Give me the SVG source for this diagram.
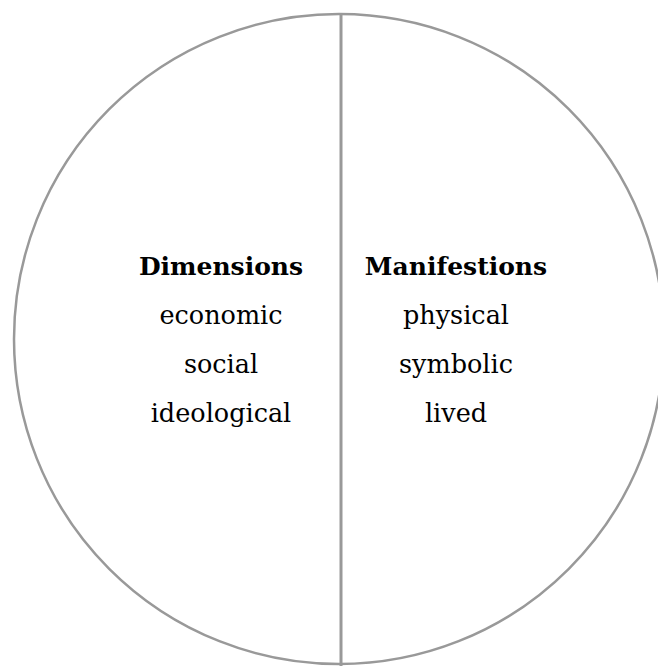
<svg xmlns="http://www.w3.org/2000/svg" width="658" height="666" viewBox="0 0 658 666">
<style>
.shape{fill:none;stroke:#999999;stroke-width:2.5}
.div{stroke:#999999;stroke-width:3}
text{font-family:"DejaVu Serif","Liberation Serif",serif;font-size:25.5px;fill:#000;text-anchor:middle}
.h{font-weight:bold;font-size:25px}
</style>
<rect width="658" height="666" fill="#ffffff"/>
<g id="circle"><circle class="shape" cx="339" cy="339" r="325"/></g>
<g id="connectors"><line class="div" x1="341" y1="14" x2="341" y2="666"/></g>
<g id="dimensions">
<text class="h" x="221" y="275">Dimensions</text>
<text x="221" y="324">economic</text>
<text x="221" y="373">social</text>
<text x="221" y="422">ideological</text>
</g>
<g id="manifestions">
<text class="h" x="456" y="275">Manifestions</text>
<text x="456" y="324">physical</text>
<text x="456" y="373">symbolic</text>
<text x="456" y="422">lived</text>
</g>
</svg>
